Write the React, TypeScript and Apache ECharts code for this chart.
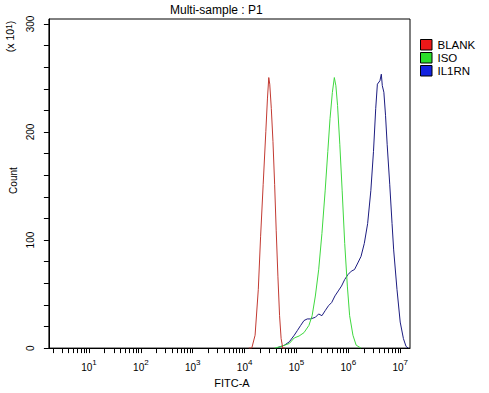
import React, { useEffect, useRef } from "react";
import * as echarts from "echarts";

// x values are log10(FITC-A), y values are counts in units of 10^1
const blankData: number[][] = [
  [4.08, 0], [4.138, 0], [4.202, 11.9], [4.264, 54.4], [4.308, 103.0], [4.358, 151.6],
  [4.409, 200.3], [4.44, 230.6], [4.466, 250.4], [4.485, 244.3], [4.515, 221.6],
  [4.547, 191.1], [4.579, 151.6], [4.609, 109.1], [4.642, 66.6], [4.674, 30.0],
  [4.704, 8.8], [4.736, 0], [4.78, 0],
];

const isoData: number[][] = [
  [4.579, 0], [4.704, 1.5], [4.862, 4.3], [4.957, 9.4], [5.051, 11.2], [5.145, 14.3],
  [5.24, 21.0], [5.302, 30.0], [5.364, 48.2], [5.428, 72.5], [5.491, 106.1],
  [5.553, 145.5], [5.604, 181.9], [5.647, 212.3], [5.692, 236.7], [5.73, 250.4],
  [5.76, 242.8], [5.792, 224.6], [5.836, 188.2], [5.881, 145.6], [5.93, 96.9],
  [5.981, 57.4], [6.025, 30.0], [6.089, 11.9], [6.151, 2.7], [6.245, 0],
];

const il1rnData: number[][] = [
  [4.609, 0], [4.768, 2.7], [4.862, 5.8], [4.957, 11.9], [5.019, 16.4], [5.081, 21.0],
  [5.145, 25.5], [5.208, 27.0], [5.27, 27.0], [5.364, 28.5], [5.428, 31.6], [5.491, 30.0],
  [5.553, 34.6], [5.617, 39.2], [5.679, 42.2], [5.742, 48.3], [5.806, 52.9], [5.868, 57.4],
  [5.93, 63.5], [5.994, 68.1], [6.057, 71.2], [6.119, 72.7], [6.183, 78.8], [6.245, 84.9],
  [6.308, 96.9], [6.372, 115.2], [6.434, 145.7], [6.485, 182.1], [6.528, 221.6],
  [6.56, 244.3], [6.609, 247.4], [6.636, 253.5], [6.655, 242.9], [6.685, 236.8],
  [6.717, 215.5], [6.749, 188.2], [6.798, 151.7], [6.843, 115.2], [6.874, 90.9],
  [6.938, 54.4], [7.0, 24.1], [7.062, 8.8], [7.113, 1.5], [7.157, 0],
];

const seriesNames = ["BLANK", "ISO", "IL1RN"];
const lineColors = ["#c23a32", "#3fd83f", "#1c1c80"];
const legendColors = ["#ee1818", "#2ade2a", "#1222e0"];

const decadeLabels = [1, 2, 3, 4, 5, 6, 7];
const minorMultipliers = [2, 3, 4, 5, 6, 7, 8, 9];
const yTickValues = [0, 20, 40, 60, 80, 100, 120, 140, 160, 180, 200, 220, 240, 260, 280, 300];
const yLabelValues = [0, 100, 200, 300];

const X_MIN = 0.2264;
const X_MAX = 7.189;

export default function App() {
  const ref = useRef<HTMLDivElement>(null);

  useEffect(() => {
    if (!ref.current) return;
    const chart = echarts.init(ref.current, undefined, { renderer: "svg" });

    const xTicks: number[] = [];
    for (let k = 0; k <= 7; k++) {
      if (k >= X_MIN && k <= X_MAX) xTicks.push(k);
      for (const m of minorMultipliers) {
        const v = k + Math.log10(m);
        if (v >= X_MIN && v <= X_MAX) xTicks.push(v);
      }
    }

    const font = "'Liberation Sans', Arial, sans-serif";
    const datas = [blankData, isoData, il1rnData];

    const legendGraphics: any[] = [];
    const rowY = [39.5, 52.5, 65.5];
    seriesNames.forEach((n, i) => {
      legendGraphics.push({
        type: "rect",
        shape: { x: 420.5, y: rowY[i], width: 11.5, height: 10.5 },
        style: { fill: legendColors[i], stroke: "#000", lineWidth: 1 },
      });
      legendGraphics.push({
        type: "text",
        x: 437.5,
        y: rowY[i] + 5.7,
        style: {
          text: n,
          fill: "#000",
          font: `11.5px ${font}`,
          lineHeight: 11,
          textAlign: "left",
          textVerticalAlign: "middle",
        },
      });
    });

    chart.setOption({
      animation: false,
      backgroundColor: "#fff",
      title: {
        text: "Multi-sample : P1",
        left: 170,
        top: 4,
        padding: 0,
        textStyle: { fontFamily: font, fontSize: 12, fontWeight: "normal", color: "#000" },
      },
      grid: {
        left: 41,
        right: 79,
        top: 19,
        bottom: 40,
        show: true,
        borderColor: "#000",
        borderWidth: 1,
        backgroundColor: "transparent",
      },
      xAxis: {
        type: "value",
        min: X_MIN,
        max: X_MAX,
        name: "FITC-A",
        nameLocation: "middle",
        nameGap: 25,
        nameTextStyle: { fontFamily: font, fontSize: 11, color: "#000", padding: [0, 0, 0, 5] },
        axisLine: { onZero: false, lineStyle: { color: "#000", width: 1 } },
        axisTick: { show: true, customValues: xTicks, length: 5, inside: false, lineStyle: { color: "#000" } },
        splitLine: { show: false },
        axisLabel: {
          customValues: decadeLabels,
          margin: 10,
          color: "#000",
          formatter: (v: number) => `{b|10}{s|${Math.round(v)}}`,
          rich: {
            b: { fontFamily: font, fontSize: 10, color: "#000", lineHeight: 14, verticalAlign: "bottom" },
            s: { fontFamily: font, fontSize: 8, color: "#000", lineHeight: 14, verticalAlign: "top" },
          },
        },
      },
      yAxis: {
        type: "value",
        min: 0,
        max: 304.6,
        name: "Count",
        nameLocation: "middle",
        nameGap: 28,
        nameRotate: 90,
        nameTextStyle: { fontFamily: font, fontSize: 10, color: "#000", padding: [0, 0, 0, 6] },
        axisLine: { show: true, lineStyle: { color: "#000", width: 1 } },
        axisTick: { show: true, customValues: yTickValues, length: 5, lineStyle: { color: "#000" } },
        splitLine: { show: false },
        axisLabel: {
          customValues: yLabelValues,
          rotate: 90,
          margin: 13,
          fontFamily: font,
          fontSize: 10,
          color: "#000",
        },
      },
      graphic: [
        {
          type: "text",
          x: 10,
          y: 36.5,
          rotation: Math.PI / 2,
          style: {
            text: "(x 10{s|1})",
            rich: {
              s: { fontSize: 8.5, fontFamily: font, fill: "#000", verticalAlign: "top", lineHeight: 12 },
            },
            fill: "#000",
            font: `10.5px ${font}`,
            lineHeight: 12,
            textAlign: "center",
            textVerticalAlign: "middle",
          },
        },
        ...legendGraphics,
      ],
      series: datas.map((d, i) => ({
        name: seriesNames[i],
        type: "line",
        data: d,
        showSymbol: false,
        symbol: "none",
        smooth: false,
        lineStyle: { color: lineColors[i], width: 1 },
        itemStyle: { color: lineColors[i] },
        z: 3 - i,
      })),
    });

    return () => chart.dispose();
  }, []);

  return (
    <div
      ref={ref}
      style={{ position: "absolute", left: 0, top: 0, width: 489, height: 393, background: "#fff" }}
    />
  );
}
